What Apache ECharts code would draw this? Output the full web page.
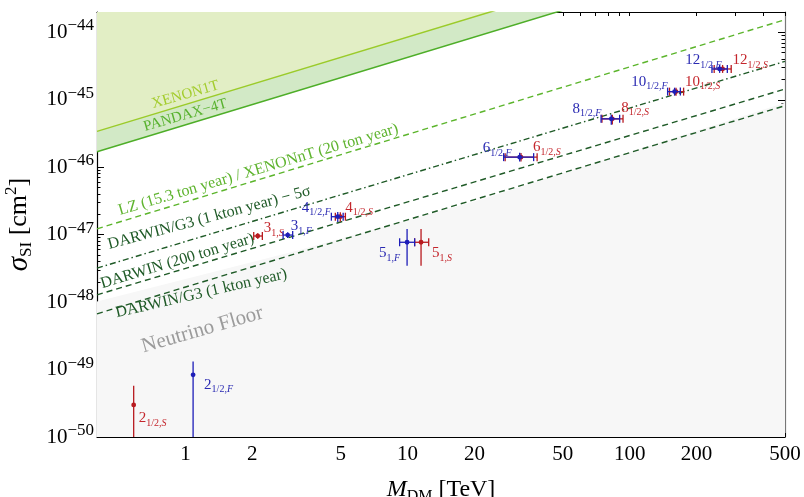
<!DOCTYPE html>
<html>
<head>
<meta charset="utf-8">
<title>Spin-independent cross section vs dark matter mass</title>
<script src="https://cdn.jsdelivr.net/npm/echarts@6.0.0/dist/echarts.min.js"></script>
<style>
  html, body { margin: 0; padding: 0; background: #ffffff; }
  #chart { width: 804px; height: 497px; }
</style>
</head>
<body>
<div id="chart"></div>
<script>
// ---------------- Axis ticks ----------------
const massTickLabels = [1, 2, 5, 10, 20, 50, 100, 200, 500];
const massTickMarks = [1, 2, 3, 4, 5, 6, 7, 8, 9, 10, 20, 30, 40, 50, 60, 70, 80, 90, 100, 200, 300, 400, 500];
const sigmaTickLabels = [1e-50, 1e-49, 1e-48, 1e-47, 1e-46, 1e-45, 1e-44];
const sigmaMinorMantissas = [2, 3, 4, 5, 6, 7, 8, 9];

// ------- Limits and projections: [M_DM (TeV), sigma_SI (cm^2)] -------
const xenon1tLine = [[0.4, 3.40e-46], [500, 4.25e-43]];
const pandax4tLine = [[0.4, 1.70e-46], [500, 2.13e-43]];
const lzXenonntLine = [[0.4, 1.22e-47], [500, 1.54e-44]];
const darwinG3FiveSigmaLine = [[0.4, 3.19e-48], [500, 3.71e-45]];
const darwin200Line = [[0.4, 1.28e-48], [500, 1.44e-45]];
const darwinG3Line = [[0.4, 6.70e-49], [500, 8.17e-46]];
const neutrinoFloor = [[0.4, 1.02e-48], [3.3, 5.97e-48], [21.3, 3.30e-47], [55.7, 9.18e-47], [500, 9.06e-46]];

// ------- Thermal multiplets -------
const multipletN = [2, 3, 4, 5, 6, 8, 10, 12];
const multipletSpin = ['1/2', '1', '1/2', '1', '1/2', '1/2', '1/2', '1/2'];

// scalar (S): mass centre / low / high (TeV), sigma centre / low / high (cm^2)
const scalarMass = [0.585, 2.116, 4.98, 11.5, 32.4, 83.5, 161.6, 261.9];
const scalarMassLow = [0.585, 2.03, 4.73, 10.76, 27.5, 75.0, 151, 240];
const scalarMassHigh = [0.585, 2.22, 5.25, 12.45, 38.3, 93.3, 174.8, 286.3];
const scalarSigma = [2.99e-50, 9.55e-48, 1.845e-47, 7.71e-48, 1.41e-46, 5.21e-46, 1.32e-45, 2.86e-45];
const scalarSigmaLow = [2.5e-51, 8.7e-48, 1.55e-47, 3.46e-48, 1.21e-46, 4.3e-46, 1.15e-45, 2.5e-45];
const scalarSigmaHigh = [5.73e-50, 1.05e-47, 2.15e-47, 1.21e-47, 1.63e-46, 6.0e-46, 1.51e-45, 3.28e-45];

// fermion (F)
const fermionMass = [1.083, 2.887, 4.85, 9.95, 31.96, 82.6, 159.2, 253.9];
const fermionMassLow = [1.083, 2.753, 4.54, 9.21, 27.07, 74.3, 148.1, 234.5];
const fermionMassHigh = [1.083, 3.04, 5.13, 10.76, 36.94, 90.1, 169, 275];
const fermionSigma = [8.34e-50, 9.86e-48, 1.845e-47, 7.71e-48, 1.41e-46, 5.21e-46, 1.32e-45, 2.86e-45];
const fermionSigmaLow = [5e-51, 8.9e-48, 1.54e-47, 3.46e-48, 1.21e-46, 4.27e-46, 1.15e-45, 2.5e-45];
const fermionSigmaHigh = [1.315e-49, 1.09e-47, 2.16e-47, 1.21e-47, 1.64e-46, 6.01e-46, 1.51e-45, 3.28e-45];

// label placement next to each point: [dx, dy, align] in pixels
const scalarLabelPlacement = [[5, 13, 'left'], [6, -8, 'left'], [5, -9, 'left'], [11, 11, 'left'],
  [12, -10, 'left'], [9, -11, 'left'], [9, -10, 'left'], [10, -9, 'left']];
const fermionLabelPlacement = [[11, 10, 'left'], [3, -9, 'left'], [-7, -9, 'right'], [-7, 11, 'right'],
  [-8, -9, 'right'], [-10, -10, 'right'], [-7, -10, 'right'], [2, -9, 'right']];

// line annotations: anchor (M, sigma) at text centre, angle in degrees
const lineLabels = [
  { text: 'XENON1T', at: [1.0, 1.19e-45], angle: 16, color: '#a3cc2c', size: 15 },
  { text: 'PANDAX\u22124T', at: [1.0, 5.9e-46], angle: 16, color: '#58b22f', size: 15 },
  { text: 'LZ (15.3 ton year) / XENONnT (20 ton year)', at: [2.13, 9.18e-47], angle: 16.5, color: '#5fb42f', size: 16 },
  { text: 'DARWIN/G3 (1 kton year) \u2212 5\u03c3', at: [1.28, 1.78e-47], angle: 15, color: '#1f5a27', size: 16 },
  { text: 'DARWIN (200 ton year)', at: [0.92, 4.05e-48], angle: 16.8, color: '#1f5a27', size: 16 },
  { text: 'DARWIN/G3 (1 kton year)', at: [1.178, 1.34e-48], angle: 13, color: '#1f5a27', size: 16 },
  { text: 'Neutrino Floor', at: [1.192, 3.88e-49], angle: 16, color: '#9b9b9b', size: 21 }
];

const SERIF = '"Liberation Serif", "DejaVu Serif", serif';
const RED = '#b81a1f', RED_TEXT = '#c4262c';
const BLUE = '#1e1eb8', BLUE_TEXT = '#2a2ab2';

// The y axis is laid out in units of 1e-50 cm^2 so the log scale keeps
// full precision; tick labels convert back to cm^2.
const SIGMA_UNIT = 1e-50;
const sy = function (s) { return s / SIGMA_UNIT; };
const toAxis = function (pts) { return pts.map(function (p) { return [p[0], sy(p[1])]; }); };

const yTicks = sigmaTickLabels.map(sy);
const yMinorTicks = [];
yTicks.forEach(function (d) {
  sigmaMinorMantissas.forEach(function (m) { yMinorTicks.push(m * d); });
});

function zip(a, b, c, d, e, f) {
  return a.map(function (v, i) { return [v, sy(d[i]), b[i], c[i], sy(e[i]), sy(f[i])]; });
}
const scalarData = zip(scalarMass, scalarMassLow, scalarMassHigh, scalarSigma, scalarSigmaLow, scalarSigmaHigh);
const fermionData = zip(fermionMass, fermionMassLow, fermionMassHigh, fermionSigma, fermionSigmaLow, fermionSigmaHigh);

// polygon between a curve and the top / bottom edge of the plot
function fillRenderer(points, edge, color) {
  return function (params, api) {
    if (params.dataIndex !== 0) return null;
    const cs = params.coordSys;
    const pts = points.map(function (p) { return api.coord(p); });
    const yEdge = edge === 'top' ? cs.y : cs.y + cs.height;
    pts.push([pts[pts.length - 1][0], yEdge], [pts[0][0], yEdge]);
    return { type: 'polygon', shape: { points: pts }, style: { fill: color } };
  };
}

function pointRenderer(color, textColor, placement, kind) {
  return function (params, api) {
    const i = params.dataIndex;
    const m = api.value(0), s = api.value(1);
    const c = api.coord([m, s]);
    const l = api.coord([api.value(2), s]);
    const r = api.coord([api.value(3), s]);
    const lo = api.coord([m, api.value(4)]);
    const hi = api.coord([m, api.value(5)]);
    const st = { stroke: color, lineWidth: 1.3 };
    const cap = 4;
    const kids = [];
    if (r[0] - l[0] > 0.5) {
      kids.push({ type: 'line', shape: { x1: l[0], y1: c[1], x2: r[0], y2: c[1] }, style: st });
      kids.push({ type: 'line', shape: { x1: l[0], y1: c[1] - cap, x2: l[0], y2: c[1] + cap }, style: st });
      kids.push({ type: 'line', shape: { x1: r[0], y1: c[1] - cap, x2: r[0], y2: c[1] + cap }, style: st });
    }
    kids.push({ type: 'line', shape: { x1: c[0], y1: hi[1], x2: c[0], y2: lo[1] }, style: st });
    kids.push({ type: 'circle', shape: { cx: c[0], cy: c[1], r: 2.4 }, style: { fill: color } });
    const p = placement[i];
    kids.push({
      type: 'text', x: c[0] + p[0], y: c[1] + p[1],
      style: {
        text: '{n|' + multipletN[i] + '}{s|' + multipletSpin[i] + ',}{k|' + kind + '}',
        fill: textColor, align: p[2], verticalAlign: 'middle',
        rich: {
          n: { fontFamily: SERIF, fontSize: 15, lineHeight: 20, fill: textColor },
          s: { fontFamily: SERIF, fontSize: 10, lineHeight: 9, verticalAlign: 'bottom', fill: textColor },
          k: { fontFamily: SERIF, fontSize: 10, lineHeight: 9, verticalAlign: 'bottom', fontStyle: 'italic', fill: textColor }
        }
      }
    });
    return { type: 'group', children: kids };
  };
}

function lineLabelRenderer(params, api) {
  const d = lineLabels[params.dataIndex];
  const p = api.coord([api.value(0), api.value(1)]);
  return {
    type: 'text', x: p[0], y: p[1], rotation: d.angle * Math.PI / 180,
    style: { text: d.text, fill: d.color, fontFamily: SERIF, fontSize: d.size, align: 'center', verticalAlign: 'middle' }
  };
}

function dashedLine(data, color, dash, width) {
  return {
    type: 'line', data: toAxis(data), symbol: 'none', showSymbol: false, clip: true, silent: true, z: 4,
    lineStyle: { color: color, width: width || 1.4, type: dash }
  };
}

const X_MIN = 0.4, X_MAX = 500, Y_MIN = sy(1e-50), Y_MAX = sy(2e-44);

function xAxisBase(position) {
  return {
    type: 'log', logBase: 10, min: X_MIN, max: X_MAX, position: position,
    axisLine: { show: true, onZero: false, lineStyle: { color: '#000', width: 1.2 } },
    axisTick: { show: true, inside: true, length: 4, customValues: massTickMarks, lineStyle: { color: '#000', width: 1 } },
    axisLabel: { show: false },
    splitLine: { show: false }, minorTick: { show: false }
  };
}

function yAxisBase(position, ticks, len, lineColor, showLine) {
  return {
    type: 'log', logBase: 10, min: Y_MIN, max: Y_MAX, position: position,
    axisLine: { show: showLine, onZero: false, lineStyle: { color: lineColor, width: 1.2 } },
    axisTick: { show: true, inside: true, length: len, customValues: ticks, lineStyle: { color: '#000', width: 1 } },
    axisLabel: { show: false },
    splitLine: { show: false }, minorTick: { show: false }
  };
}

const xBottom = xAxisBase('bottom');
xBottom.axisLabel = {
  show: true, customValues: massTickLabels, margin: 7, color: '#000',
  fontFamily: SERIF, fontSize: 21,
  formatter: function (v) { return String(Math.round(v)); }
};
xBottom.name = '{i|M}{sub|DM}{r| [TeV]}';
xBottom.nameLocation = 'middle';
xBottom.nameGap = 38;
xBottom.nameTextStyle = {
  color: '#000', fontFamily: SERIF, fontSize: 24,
  rich: {
    i: { fontFamily: SERIF, fontSize: 24, fontStyle: 'italic', lineHeight: 30, color: '#000' },
    sub: { fontFamily: SERIF, fontSize: 16, lineHeight: 14, verticalAlign: 'bottom', color: '#000' },
    r: { fontFamily: SERIF, fontSize: 24, lineHeight: 30, color: '#000' }
  }
};

const yLeft = yAxisBase('left', yTicks, 7, '#000', true);
yLeft.axisLabel = {
  show: true, customValues: yTicks, margin: 3, color: '#000',
  formatter: function (v) {
    const e = Math.round(Math.log10(v * SIGMA_UNIT));
    return '{b|10}{e|' + (e < 0 ? '\u2212' + (-e) : e) + '}';
  },
  rich: {
    b: { fontFamily: SERIF, fontSize: 21, lineHeight: 30, color: '#000' },
    e: { fontFamily: SERIF, fontSize: 17, lineHeight: 14, verticalAlign: 'top', color: '#000' }
  }
};
yLeft.name = '{i|\u03c3}{sub|SI}{r| [cm}{sup|2}{r|]}';
yLeft.nameLocation = 'middle';
yLeft.nameRotate = 90;
yLeft.nameGap = 56;
yLeft.nameTextStyle = {
  color: '#000', fontFamily: SERIF, fontSize: 26,
  rich: {
    i: { fontFamily: SERIF, fontSize: 29, fontStyle: 'italic', lineHeight: 32, color: '#000' },
    sub: { fontFamily: SERIF, fontSize: 17, lineHeight: 14, verticalAlign: 'bottom', color: '#000' },
    sup: { fontFamily: SERIF, fontSize: 17, lineHeight: 14, verticalAlign: 'top', color: '#000' },
    r: { fontFamily: SERIF, fontSize: 26, lineHeight: 32, color: '#000' }
  }
};

const option = {
  animation: false,
  backgroundColor: '#ffffff',
  grid: { left: 97, right: 19, top: 12, bottom: 60, containLabel: false, outerBoundsMode: 'none' },
  xAxis: [xBottom, xAxisBase('top')],
  yAxis: [
    yLeft,
    yAxisBase('left', yMinorTicks, 3.5, '#000', false),
    yAxisBase('right', yTicks, 7, '#777', true),
    yAxisBase('right', yMinorTicks, 3.5, '#777', false)
  ],
  series: [
    { type: 'custom', data: toAxis(neutrinoFloor), clip: true, silent: true, z: 1,
      renderItem: fillRenderer(toAxis(neutrinoFloor), 'bottom', '#f7f7f7') },
    { type: 'custom', data: toAxis(pandax4tLine), clip: true, silent: true, z: 2,
      renderItem: fillRenderer(toAxis(pandax4tLine), 'top', '#d2e9c6') },
    { type: 'custom', data: toAxis(xenon1tLine), clip: true, silent: true, z: 3,
      renderItem: fillRenderer(toAxis(xenon1tLine), 'top', '#e2eec5') },
    dashedLine(xenon1tLine, '#9bcb2a', 'solid', 1.5),
    dashedLine(pandax4tLine, '#4eae28', 'solid', 1.5),
    dashedLine(lzXenonntLine, '#5cb52c', [6, 4], 1.4),
    dashedLine(darwinG3FiveSigmaLine, '#1f5a27', [6, 3, 1.5, 3], 1.4),
    dashedLine(darwin200Line, '#1f5a27', [6, 4], 1.4),
    dashedLine(darwinG3Line, '#1f5a27', [6, 4], 1.4),
    { type: 'custom', data: toAxis(lineLabels.map(function (d) { return d.at; })), clip: true, silent: true, z: 5,
      renderItem: lineLabelRenderer },
    { type: 'custom', data: scalarData, clip: true, silent: true, z: 6,
      renderItem: pointRenderer(RED, RED_TEXT, scalarLabelPlacement, 'S') },
    { type: 'custom', data: fermionData, clip: true, silent: true, z: 7,
      renderItem: pointRenderer(BLUE, BLUE_TEXT, fermionLabelPlacement, 'F') }
  ]
};

const chart = echarts.init(document.getElementById('chart'), null, { renderer: 'canvas' });
chart.setOption(option);
</script>
</body>
</html>
